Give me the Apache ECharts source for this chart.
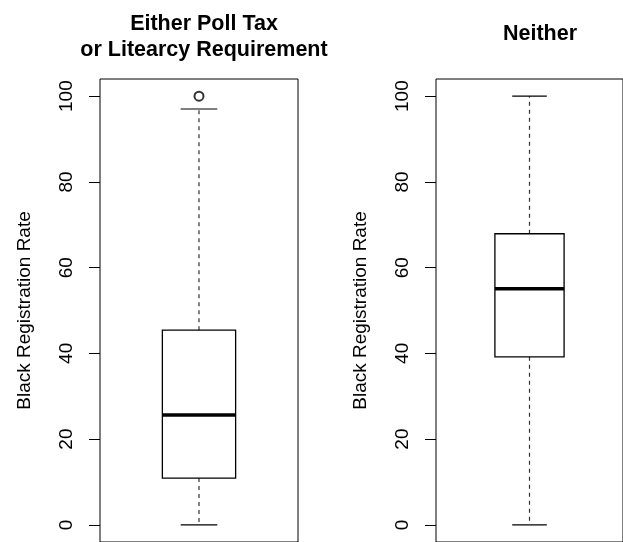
<!DOCTYPE html>
<html>
<head>
<meta charset="utf-8">
<script src="https://cdn.jsdelivr.net/npm/echarts@6/dist/echarts.min.js"></script>
<style>
  html, body { margin: 0; padding: 0; background: #fff; }
  #chart { width: 623px; height: 542px; }
</style>
</head>
<body>
<div id="chart"></div>
<script>
// Black registration rate by voting restriction type (two panels)
const groups = ['Either Poll Tax\nor Litearcy Requirement', 'Neither'];
const lowerWhisker = [0, 0];
const q1 = [10.9, 39.2];
const median = [25.6, 55.1];
const q3 = [45.4, 67.9];
const upperWhisker = [97, 100];
const outliers = [[100], []];
const yTicks = [0, 20, 40, 60, 80, 100];

const FONT = 'Liberation Sans, Arial, sans-serif';
const panelLeft = [100, 436];
const panelWidth = 198;
const titleTop = [6, 16];

function renderBox(params, api) {
  const x = api.value(0);
  const lo = api.coord([x, api.value(1)]);
  const b1 = api.coord([x, api.value(2)]);
  const md = api.coord([x, api.value(3)]);
  const b3 = api.coord([x, api.value(4)]);
  const hi = api.coord([x, api.value(5)]);
  const band = api.size([1, 0])[0];
  const half = band * 0.37 / 2;
  const cap = half / 2;
  const cx = lo[0];
  const ink = { stroke: '#000', lineWidth: 1.2, fill: null };
  const dashed = { stroke: '#333', lineWidth: 1.2, lineDash: [4, 4], fill: null };
  return {
    type: 'group',
    children: [
      { type: 'line', shape: { x1: cx, y1: b3[1], x2: cx, y2: hi[1] }, style: dashed },
      { type: 'line', shape: { x1: cx, y1: b1[1], x2: cx, y2: lo[1] }, style: dashed },
      { type: 'line', shape: { x1: cx - cap, y1: hi[1], x2: cx + cap, y2: hi[1] }, style: ink },
      { type: 'line', shape: { x1: cx - cap, y1: lo[1], x2: cx + cap, y2: lo[1] }, style: ink },
      { type: 'rect', shape: { x: cx - half, y: b3[1], width: half * 2, height: b1[1] - b3[1] },
        style: { stroke: '#000', lineWidth: 1.3, fill: '#fff' } },
      { type: 'line', shape: { x1: cx - half, y1: md[1], x2: cx + half, y2: md[1] },
        style: { stroke: '#000', lineWidth: 3.5 } }
    ]
  };
}

const grids = [], xAxes = [], yAxes = [], series = [], titles = [];
groups.forEach((g, i) => {
  grids.push({
    left: panelLeft[i], width: panelWidth, top: 79, height: 467,
    show: true, borderColor: '#000', borderWidth: 1, backgroundColor: 'transparent'
  });
  xAxes.push({
    type: 'category', gridIndex: i, data: [g],
    axisLine: { show: false }, axisTick: { show: false }, axisLabel: { show: false }
  });
  yAxes.push({
    type: 'value', gridIndex: i, min: -4, max: 104,
    name: 'Black Registration Rate', nameLocation: 'middle', nameGap: 66, nameRotate: 90,
    nameTextStyle: { fontFamily: FONT, fontSize: 19, color: '#000' },
    axisLine: { show: false },
    splitLine: { show: false },
    axisTick: { show: true, length: 11, customValues: yTicks, lineStyle: { color: '#000', width: 1 } },
    axisLabel: { show: true, rotate: 90, margin: 24, customValues: yTicks,
      fontFamily: FONT, fontSize: 19, color: '#000' }
  });
  series.push({
    type: 'custom', xAxisIndex: i, yAxisIndex: i,
    renderItem: renderBox,
    data: [[0, lowerWhisker[i], q1[i], median[i], q3[i], upperWhisker[i]]],
    silent: true, z: 2
  });
  series.push({
    type: 'scatter', xAxisIndex: i, yAxisIndex: i,
    symbol: 'emptyCircle', symbolSize: 9,
    itemStyle: { color: '#000', borderColor: '#000', borderWidth: 1.6 },
    data: outliers[i].map(v => [0, v]),
    silent: true, z: 3
  });
  titles.push({
    text: g, left: panelLeft[i] + panelWidth / 2, top: titleTop[i], textAlign: 'center',
    textStyle: { fontFamily: FONT, fontSize: 21.5, fontWeight: 'bold', color: '#000', lineHeight: 26 }
  });
});

const chart = echarts.init(document.getElementById('chart'), null, { renderer: 'canvas' });
chart.setOption({
  animation: false,
  backgroundColor: '#fff',
  title: titles,
  grid: grids,
  xAxis: xAxes,
  yAxis: yAxes,
  series: series
});
</script>
</body>
</html>
